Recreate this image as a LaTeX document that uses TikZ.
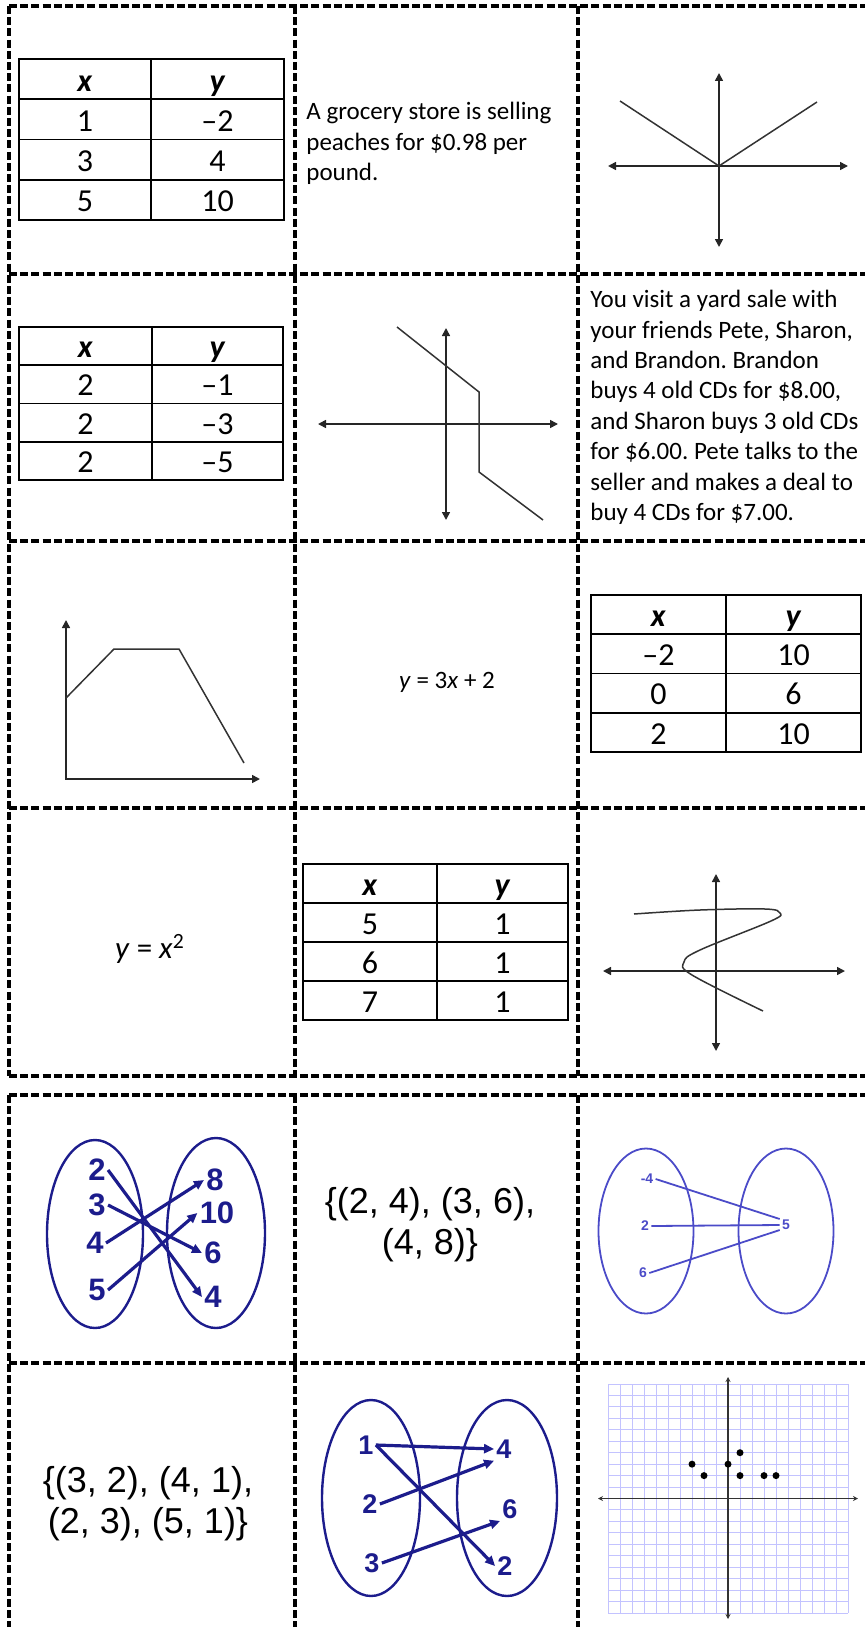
\documentclass[tikz,border=0pt]{standalone}
\usepackage{fontspec}
\setmainfont{Carlito}
\newfontfamily\arialfont{Liberation Sans}
\usepackage{xcolor}
\usetikzlibrary{arrows.meta}
\definecolor{mapnavy}{RGB}{28,28,140}
\definecolor{mapblue}{RGB}{75,75,200}
\definecolor{gridblue}{RGB}{195,195,255}
\frenchspacing

\begin{document}
\begin{tikzpicture}[x=0.5pt,y=-0.5pt,>={Triangle[length=4pt,width=4pt]},
  cutline/.style={line width=1.8pt,dash pattern=on 4pt off 1.6pt},
  tabline/.style={line width=0.8pt},
  graxis/.style={line width=0.8pt,black!85,<->},
  graf/.style={line width=0.75pt,black!80},
  card/.style={font=\fontsize{12.5}{15.2}\selectfont,align=left,inner sep=0pt},
  tabcell/.style={font=\fontsize{16}{18}\selectfont,inner sep=0pt,anchor=base},
  setnum/.style={font=\arialfont\bfseries\fontsize{15.5}{17}\selectfont,mapnavy,inner sep=1pt},
  smallnum/.style={font=\arialfont\bfseries\fontsize{7}{8}\selectfont,mapblue,inner sep=1pt},
  maparrow/.style={line width=1.6pt,mapnavy,-{Triangle[length=5pt,width=4.5pt]}},
  pairs/.style={font=\arialfont\fontsize{18}{20.5}\selectfont,align=center}]
\useasboundingbox (0,0) rectangle (865,1627);

% cut lines
\foreach \y in {6,274,541,808,1076,1095,1363}
  \draw[cutline] (9,\y) -- (865,\y);
\foreach \x in {9,295,578} {
  \draw[cutline] (\x,6) -- (\x,1076);
  \draw[cutline] (\x,1095) -- (\x,1627);
}

% x-y tables
\foreach \nm/\lx/\ty/\mx/\rx/\rh/\vals in {
  ta/19/59/151/284/40.25/{1/--2,3/4,5/10},
  tb/19/327/152/283/38.25/{2/--1,2/--3,2/--5},
  tc/591/595/726/861/39.25/{--2/10,0/6,2/10},
  td/303/864/437/568/39/{5/1,6/1,7/1}} {
  \draw[tabline] (\lx,\ty) rectangle (\rx,\ty+4*\rh);
  \draw[tabline] (\mx,\ty) -- (\mx,\ty+4*\rh);
  \foreach \k in {1,2,3}
    \draw[tabline] (\lx,\ty+\k*\rh) -- (\rx,\ty+\k*\rh);
  \node[tabcell] (\nm-hx) at ({(\lx+\mx)/2},\ty+0.8*\rh) {\textbf{\textit{x}}};
  \node[tabcell] (\nm-hy) at ({(\mx+\rx)/2},\ty+0.8*\rh) {\textbf{\textit{y}}};
  \foreach \p/\q [count=\i] in \vals {
    \node[tabcell] (\nm-x\i) at ({(\lx+\mx)/2},\ty+\i*\rh+0.8*\rh) {\p};
    \node[tabcell] (\nm-y\i) at ({(\mx+\rx)/2},\ty+\i*\rh+0.8*\rh) {\q};
  }
}

% word cards and equations
\node[card,anchor=north west] (peach) at (306,102) {A grocery store is selling\\peaches for \$0.98 per\\pound.};
\node[card,anchor=north west] (yard) at (590,290) {You visit a yard sale with\\your friends Pete, Sharon,\\and Brandon. Brandon\\buys 4 old CDs for \$8.00,\\and Sharon buys 3 old CDs\\for \$6.00. Pete talks to the\\seller and makes a deal to\\buy 4 CDs for \$7.00.};
\node[card] (lineq) at (447,682) {\textit{y} = 3\textit{x} + 2};
\node[card,font=\fontsize{15.5}{17}\selectfont] (sqeq) at (150,949) {\textit{y} = \textit{x}\textsuperscript{2}};
\node[pairs] (setb) at (430,1225) {\{(2, 4), (3, 6),\\(4, 8)\}};
\node[pairs] (setd) at (148,1504) {\{(3, 2), (4, 1),\\(2, 3), (5, 1)\}};

% graphs
\draw[graxis] (608,166) -- (848,166);
\draw[graxis] (719,73) -- (719,247);
\draw[graf] (620,101) -- (719,166) -- (817,102);

\draw[graxis] (318,424) -- (558,424);
\draw[graxis] (446,328) -- (446,520);
\draw[graf] (397,327) -- (479,392) -- (479,472) -- (543,520);

\draw[graxis] (66,620) -- (66,779) -- (260,779);
\draw[graf] (66,698) -- (114,649) -- (179,649) -- (244,763);

\draw[graxis] (603,971) -- (845,971);
\draw[graxis] (716,874) -- (716,1051);
\draw[graf] plot[smooth,tension=0.6] coordinates {(634,914) (700,910) (765,909) (780,913) (771,921) (700,950) (684,962) (692,975) (763,1011)};

% mapping 1
\draw[mapnavy,line width=1.2pt] (95,1234) ellipse [x radius=48,y radius=94];
\draw[mapnavy,line width=1.2pt] (216,1233) ellipse [x radius=49,y radius=95];
\foreach \nm/\px/\py/\t in {a2/97/1170/2, a3/97/1205/3, a4/95/1243/4, a5/97/1290/5,
  b8/215/1180/8, b10/217/1213/10, b6/213/1253/6, b4/213/1297/4}
  \node[setnum] (\nm) at (\px,\py) {\t};
\draw[maparrow] (a2.east) -- (b4.west);
\draw[maparrow] (a3.east) -- (b6.west);
\draw[maparrow] (a4.east) -- (b8.west);
\draw[maparrow] (a5.east) -- (b10.west);

% mapping 2
\draw[mapblue,line width=0.9pt] (646,1231) ellipse [x radius=47.5,y radius=82.5];
\draw[mapblue,line width=0.9pt] (786,1231) ellipse [x radius=47.5,y radius=82.5];
\foreach \nm/\px/\py/\t in {p4/647/1179/-4, p2/645/1226/2, p6/643/1273/6, q5/786/1225/5}
  \node[smallnum] (\nm) at (\px,\py) {\t};
\draw[mapblue,line width=0.9pt] (p4.east) -- ([yshift=3pt]q5.west);
\draw[mapblue,line width=0.9pt] (p2.east) -- (q5.west);
\draw[mapblue,line width=0.9pt] (p6.east) -- ([yshift=-2.5pt]q5.west);

% mapping 3
\draw[mapnavy,line width=1.2pt] (371,1498) ellipse [x radius=49,y radius=98];
\draw[mapnavy,line width=1.2pt] (507,1498) ellipse [x radius=50,y radius=98];
\foreach \nm/\px/\py/\t in {c1/366/1445/1, c2/370/1504/2, c3/372/1563/3,
  d4/504/1449/4, d6/510/1509/6, d2/505/1566/2}
  \node[setnum,font=\arialfont\bfseries\fontsize{13.5}{15}\selectfont] (\nm) at (\px,\py) {\t};
\draw[maparrow] (c1.east) -- (d4.west);
\draw[maparrow] (c1.east) -- (d2.west);
\draw[maparrow] (c2.east) -- (d4.south west);
\draw[maparrow] (c3.east) -- (d6.south west);

% scatter grid
\foreach \i in {0,...,20} {
  \draw[gridblue,line width=0.5pt] (608+12*\i,1384) -- (608+12*\i,1613);
  \draw[gridblue,line width=0.5pt] (608,1384+11.45*\i) -- (848,1384+11.45*\i);
}
\draw[line width=0.9pt,black!80,{Stealth[length=2.5pt,width=2.5pt]}-{Stealth[length=2.5pt,width=2.5pt]}] (598,1498.5) -- (858,1498.5);
\draw[line width=0.9pt,black!80,{Stealth[length=2.5pt,width=2.5pt]}-{Stealth[length=2.5pt,width=2.5pt]}] (728,1377) -- (728,1619);
\foreach \gx/\gy in {-3/3,-2/2,0/3,1/4,1/2,3/2,4/2}
  \fill (728+12*\gx,1498.5-11.45*\gy) circle [radius=3.5];
\end{tikzpicture}
\end{document}
